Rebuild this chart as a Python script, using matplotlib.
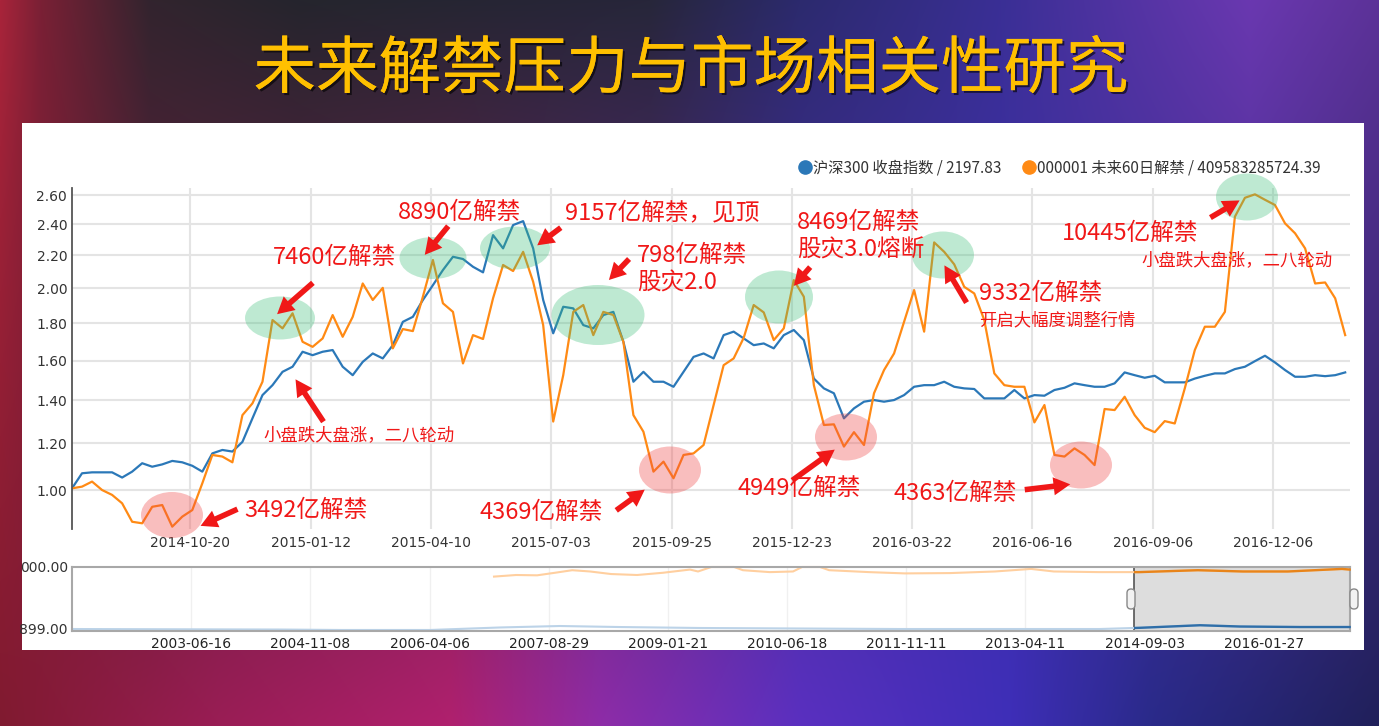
import numpy as np
import matplotlib
matplotlib.use("Agg")
import matplotlib.pyplot as plt
from matplotlib.patches import Ellipse, FancyArrowPatch, Rectangle, FancyBboxPatch
from matplotlib.lines import Line2D
from matplotlib.font_manager import FontProperties
import matplotlib.patheffects as pe

W, H = 1379, 726
CJK = ['Noto Sans CJK SC', 'DejaVu Sans']
BLUE = '#2b78b8'
ORANGE = '#ff8a14'
RED = '#f01818'

# ---- data: main chart, one value every 5 trading days ----
step = 5
hs300 = [1.007, 1.070, 1.074, 1.074, 1.074, 1.052, 1.077, 1.113, 1.098, 1.108,
         1.123, 1.117, 1.102, 1.077, 1.156, 1.171, 1.164, 1.207, 1.315, 1.426,
         1.475, 1.542, 1.568, 1.646, 1.628, 1.646, 1.655, 1.568, 1.525, 1.593,
         1.637, 1.611, 1.681, 1.808, 1.836, 1.932, 2.019, 2.110, 2.192, 2.178,
         2.130, 2.096, 2.330, 2.245, 2.396, 2.422, 2.245, 1.932, 1.745, 1.893,
         1.884, 1.790, 1.772, 1.846, 1.864, 1.699, 1.492, 1.542, 1.492, 1.492,
         1.467, 1.542, 1.619, 1.637, 1.611, 1.735, 1.754, 1.717, 1.681, 1.690,
         1.664, 1.735, 1.763, 1.708, 1.508, 1.459, 1.435, 1.315, 1.362, 1.394,
         1.402, 1.394, 1.402, 1.426, 1.467, 1.475, 1.475, 1.492, 1.467, 1.459,
         1.456, 1.410, 1.410, 1.410, 1.451, 1.410, 1.426, 1.423, 1.451, 1.462,
         1.484, 1.475, 1.467, 1.467, 1.484, 1.539, 1.525, 1.512, 1.522, 1.489,
         1.489, 1.489, 1.508, 1.522, 1.534, 1.534, 1.556, 1.568, 1.597, 1.625,
         1.590, 1.551, 1.517, 1.517, 1.525, 1.520, 1.525, 1.539]
unlock60 = [1.007, 1.014, 1.035, 1.000, 0.980, 0.946, 0.873, 0.867, 0.932, 0.939,
            0.854, 0.893, 0.919, 1.028, 1.149, 1.142, 1.117, 1.330, 1.386, 1.492,
            1.818, 1.772, 1.856, 1.699, 1.672, 1.717, 1.846, 1.726, 1.836, 2.029,
            1.932, 2.003, 1.664, 1.768, 1.757, 1.951, 2.172, 1.913, 1.864, 1.585,
            1.735, 1.714, 1.942, 2.141, 2.104, 2.223, 2.039, 1.790, 1.300, 1.525,
            1.864, 1.903, 1.735, 1.864, 1.846, 1.699, 1.330, 1.253, 1.077, 1.120,
            1.049, 1.149, 1.156, 1.193, 1.378, 1.576, 1.611, 1.720, 1.903, 1.861,
            1.708, 1.772, 2.049, 1.951, 1.475, 1.284, 1.287, 1.186, 1.251, 1.193,
            1.435, 1.551, 1.637, 1.808, 1.990, 1.754, 2.283, 2.223, 2.145, 2.009,
            1.970, 1.818, 1.534, 1.475, 1.467, 1.467, 1.296, 1.378, 1.149, 1.142,
            1.178, 1.149, 1.105, 1.359, 1.354, 1.418, 1.330, 1.271, 1.251, 1.302,
            1.291, 1.459, 1.655, 1.781, 1.781, 1.864, 2.452, 2.581, 2.605, 2.567,
            2.531, 2.407, 2.342, 2.245, 2.029, 2.035, 1.942, 1.735]
tick_idx = [59, 119, 179, 239, 299, 359, 419, 479, 539, 599]
tick_labels = ['2014-10-20', '2015-01-12', '2015-04-10', '2015-07-03', '2015-09-25',
               '2015-12-23', '2016-03-22', '2016-06-16', '2016-09-06', '2016-12-06']
y_ticks = [1.00, 1.20, 1.40, 1.60, 1.80, 2.00, 2.20, 2.40, 2.60]
legend_labels = ['沪深300 收盘指数 / 2197.83', '000001 未来60日解禁 / 409583285724.39']

# ---- data: navigator (whole history, normalised to its own box) ----
nav_ticks = [350, 690, 1030, 1370, 1710, 2050, 2390, 2730, 3070, 3410]
nav_labels = ['2003-06-16', '2004-11-08', '2006-04-06', '2007-08-29', '2009-01-21',
              '2010-06-18', '2011-11-11', '2013-04-11', '2014-09-03', '2016-01-27']
nav_orange_x = [1214, 1277, 1337, 1388, 1437, 1488, 1548, 1622, 1696, 1773, 1796, 1834,
                1899, 1924, 2001, 2067, 2093, 2144, 2170, 2284, 2386, 2515, 2643, 2746,
                2811, 2940, 3054, 3222, 3350, 3479, 3633, 3655]
nav_orange = [0.85, 0.875, 0.87, 0.91, 0.95, 0.93, 0.89, 0.875, 0.91, 0.96, 0.93, 1.0,
              1.0, 0.95, 0.92, 0.93, 1.0, 1.0, 0.95, 0.92, 0.90, 0.905, 0.93, 0.97,
              0.93, 0.92, 0.92, 0.95, 0.93, 0.93, 0.97, 0.96]
nav_blue_x = [10, 607, 775, 1032, 1231, 1402, 1573, 1802, 2087, 2372, 2657, 2942, 3057,
              3228, 3342, 3513, 3655]
nav_blue = [0.031, 0.023, 0.016, 0.016, 0.055, 0.078, 0.062, 0.047, 0.039, 0.031, 0.031,
            0.031, 0.05, 0.09, 0.07, 0.062, 0.062]
nav_sel = (3039, 3658)

idx = np.arange(len(hs300)) * step


def frac(l, t, r, b):
    return [l / W, 1 - b / H, (r - l) / W, (b - t) / H]


def hex2rgb(h):
    return np.array([int(h[i:i + 2], 16) for i in (1, 3, 5)]) / 255.0


def grad_row(stops):
    xs = np.arange(W)
    pos = [s[0] for s in stops]
    cols = np.array([hex2rgb(s[1]) for s in stops])
    return np.stack([np.interp(xs, pos, cols[:, c]) for c in range(3)], axis=1)


fig = plt.figure(figsize=(W / 100, H / 100), dpi=100)

# background slide
bg = fig.add_axes([0, 0, 1, 1], zorder=0)
top = grad_row([(0, '#a8243a'), (40, '#7a2035'), (150, '#32242e'), (300, '#25252d'),
                (650, '#27263a'), (800, '#2c2a6e'), (1000, '#3a2f95'), (1250, '#6a38b0'),
                (1379, '#5c3298')])
bot = grad_row([(0, '#801a30'), (220, '#9a1d55'), (450, '#b0206e'), (600, '#8e2ca8'),
                (800, '#5a30c0'), (1010, '#3e2eb8'), (1150, '#2a2a8a'), (1379, '#20205a')])
t = np.linspace(0, 1, H)[:, None, None]
bg.imshow(top[None] * (1 - t) + bot[None] * t, extent=(0, W, H, 0), aspect='auto')
bg.add_patch(Rectangle((22, 123), 1342, 527, facecolor='white', edgecolor='none'))
bg.text(691, 70, '未来解禁压力与市场相关性研究', fontsize=45, color='#ffc000',
        ha='center', va='center', family=CJK,
        path_effects=[pe.withSimplePatchShadow(offset=(1.5, -1.5), shadow_rgbFace='black', alpha=0.6),
                      pe.Normal()])
bg.set_xlim(0, W)
bg.set_ylim(H, 0)
bg.axis('off')

# main chart
ax = fig.add_axes(frac(72, 188, 1350, 529), zorder=1)
ax.set_yscale('function', functions=(lambda v: np.log(np.asarray(v) + 1.3),
                                     lambda u: np.exp(u) - 1.3))
ax.plot(idx, hs300, color=BLUE, lw=1.6, label=legend_labels[0])
ax.plot(idx, unlock60, color=ORANGE, lw=1.6, label=legend_labels[1])
ax.set_xlim(0, 637.4)
ax.set_ylim(0.845, 2.6495)
ax.set_yticks(y_ticks)
ax.set_yticklabels(['%.2f' % v for v in y_ticks])
ax.yaxis.set_minor_locator(matplotlib.ticker.NullLocator())
ax.set_xticks(tick_idx)
ax.set_xticklabels(tick_labels)
ax.grid(color='#e4e4e4', lw=1.5)
ax.set_axisbelow(True)
for s in ['top', 'right', 'bottom']:
    ax.spines[s].set_visible(False)
ax.spines['left'].set_color('#555555')
ax.spines['left'].set_linewidth(1.3)
ax.tick_params(length=0, labelsize=10, colors='#333333')
ax.tick_params(axis='y', pad=3.5)
ax.tick_params(axis='x', pad=5)

handles = [Line2D([], [], ls='', marker='o', ms=9.5, color=BLUE),
           Line2D([], [], ls='', marker='o', ms=9.5, color=ORANGE)]
ax.legend(handles, legend_labels, loc='center right', bbox_to_anchor=(1334 / W, 1 - 168 / H),
          bbox_transform=fig.transFigure, ncol=2, frameon=False,
          prop=FontProperties(family=CJK, size=11), handletextpad=0.0,
          columnspacing=1.3, handlelength=1.0, labelcolor='#333333')

# navigator
nav = fig.add_axes(frac(72, 567, 1350, 631), zorder=1)
nav.set_xlim(10, 3656)
nav.set_ylim(0, 1)
sel = Rectangle((nav_sel[0], 0), nav_sel[1] - nav_sel[0], 1, facecolor='#dddddd',
                edgecolor='#555555', lw=1.2, zorder=1)
nav.add_patch(sel)
nav.plot(nav_orange_x, nav_orange, color='#ffcf9f', lw=1.5, zorder=2, clip_on=False)
nav.plot(nav_blue_x, nav_blue, color='#bcd3e8', lw=1.5, zorder=2, clip_on=False)
dark_o, = nav.plot(nav_orange_x, nav_orange, color='#e8841a', lw=1.7, zorder=3)
dark_b, = nav.plot(nav_blue_x, nav_blue, color='#2f6ea8', lw=1.7, zorder=3)
dark_o.set_clip_path(sel)
dark_b.set_clip_path(sel)
nav.set_xticks(nav_ticks)
nav.set_xticklabels(nav_labels)
nav.set_yticks([])
nav.grid(axis='x', color='#f0f0f0', lw=1)
nav.set_axisbelow(True)
for s in nav.spines.values():
    s.set_color('#a8a8a8')
    s.set_linewidth(1.5)
nav.tick_params(length=0, labelsize=10, colors='#222222', pad=4)

# overlay: annotations in pixel space
ov = fig.add_axes([0, 0, 1, 1], zorder=3)
ov.set_xlim(0, W)
ov.set_ylim(H, 0)
ov.axis('off')
ov.patch.set_alpha(0)

ov.text(68, 568, '000.00', fontsize=10, color='#333333', ha='right', va='center')
ov.text(68, 630, '899.00', fontsize=10, color='#333333', ha='right', va='center')
for hx in (1131, 1354):
    ov.add_patch(FancyBboxPatch((hx - 4, 589), 8, 20, boxstyle='round,pad=0,rounding_size=4',
                                facecolor='#f2f2f2', edgecolor='#888888', lw=1))

greens = [(280, 318, 70, 43), (433, 258, 67, 42), (515, 248, 70, 43), (598, 315, 93, 60),
          (779, 297, 68, 53), (943, 255, 62, 47), (1247, 197, 62, 47)]
pinks = [(172, 515, 62, 46), (670, 470, 62, 47), (846, 437, 62, 47), (1081, 465, 62, 47)]
for cx, cy, w, h in greens:
    ov.add_patch(Ellipse((cx, cy), w, h, facecolor='#3cbf78', alpha=0.33, edgecolor='none'))
for cx, cy, w, h in pinks:
    ov.add_patch(Ellipse((cx, cy), w, h, facecolor='#f04545', alpha=0.35, edgecolor='none'))

arrows = [((240, 508), (198, 527)), ((315, 281), (275, 316)), ((325, 424), (294, 377)),
          ((450, 224), (423, 257)), ((563, 226), (535, 247)), ((631, 257), (607, 282)),
          ((614, 512), (647, 488)), ((812, 265), (792, 288)), ((790, 482), (837, 448)),
          ((968, 305), (943, 263)), ((1022, 490), (1073, 484)), ((1208, 219), (1242, 199))]
for a, b in arrows:
    ov.add_patch(FancyArrowPatch(a, b, arrowstyle='simple,head_length=0.6,head_width=0.65,tail_width=0.2',
                                 mutation_scale=20, color=RED, lw=0))

big = [(244, 510, '3492亿解禁'), (273, 257, '7460亿解禁'), (398, 212, '8890亿解禁'),
       (565, 213, '9157亿解禁，见顶'), (637, 255, '798亿解禁'), (637, 283, '股灾2.0'),
       (797, 222, '8469亿解禁'), (797, 250, '股灾3.0熔断'), (479, 512, '4369亿解禁'),
       (737, 488, '4949亿解禁'), (893, 493, '4363亿解禁'), (979, 293, '9332亿解禁'),
       (1062, 233, '10445亿解禁')]
for x, y, s in big:
    ov.text(x, y, s, color=RED, fontsize=17, family=CJK, ha='left', va='center')
small = [(263, 435, '小盘跌大盘涨，二八轮动'), (979, 320, '开启大幅度调整行情'),
         (1141, 260, '小盘跌大盘涨，二八轮动')]
for x, y, s in small:
    ov.text(x, y, s, color=RED, fontsize=12.5, family=CJK, ha='left', va='center')

fig.savefig('out.png', dpi=100)
